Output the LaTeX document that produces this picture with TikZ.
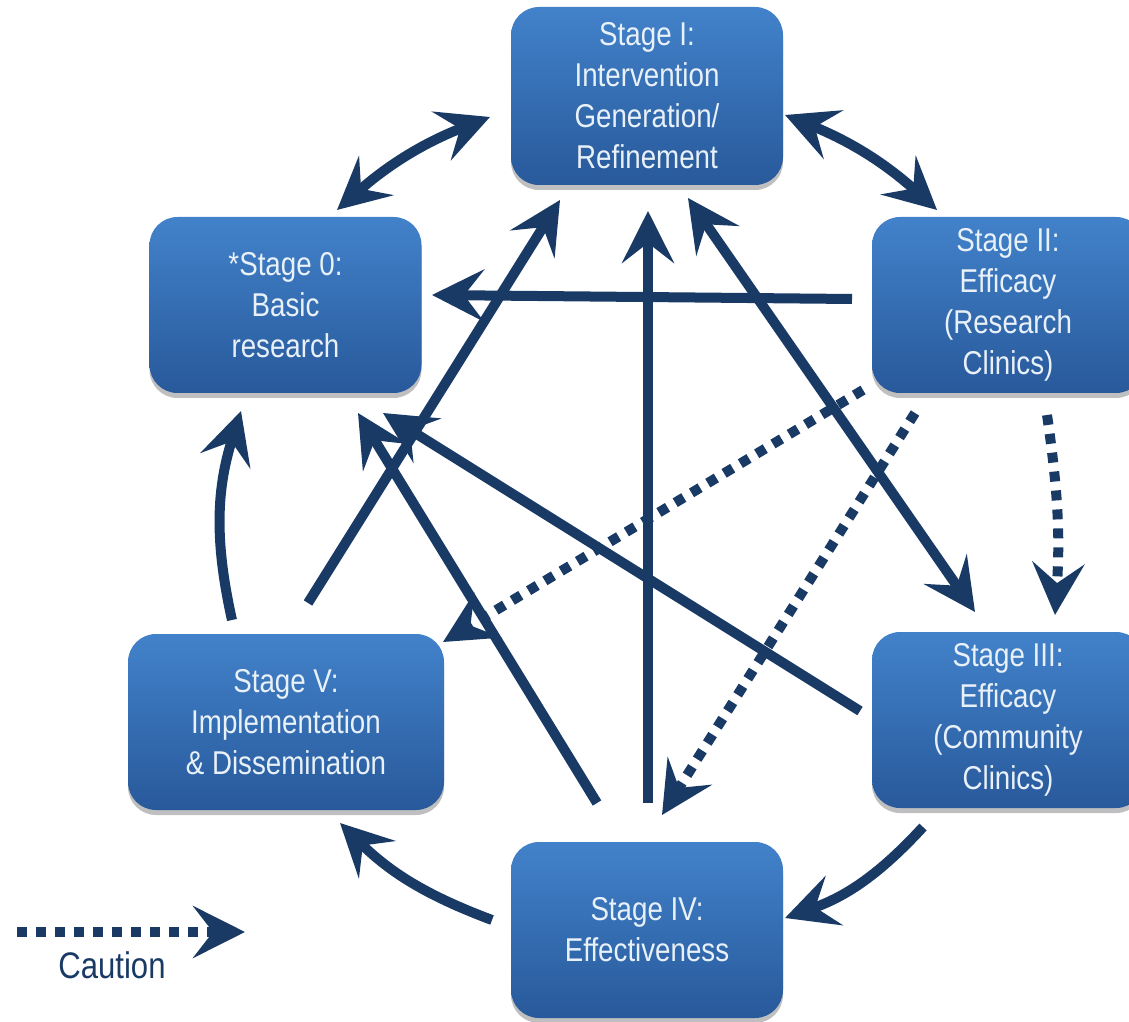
\documentclass[tikz,border=0pt]{standalone}
\usepackage{fontspec}
\newfontfamily\cond{Liberation Sans}[FakeStretch=0.84]
\usetikzlibrary{arrows.meta,shadows}
\definecolor{navy}{RGB}{26,58,102}
\definecolor{boxtop}{RGB}{66,130,202}
\definecolor{boxbot}{RGB}{40,89,155}
\definecolor{boxtext}{RGB}{232,240,248}
\begin{document}
\begin{tikzpicture}[x=1pt,y=1pt,
  stagebox/.style={rounded corners=28pt, top color=boxtop, bottom color=boxbot,
    draw=none, text=boxtext, align=center,
    font=\cond\fontsize{33}{41}\selectfont,
    minimum width=272pt, minimum height=176pt, inner sep=0pt,
    drop shadow={shadow xshift=0pt, shadow yshift=-5pt, opacity=0.25, fill=black}},
  tipA/.tip={Stealth[length=52pt,width=52pt,inset=20pt]},
  conn/.style={draw=navy, line width=10pt, -tipA},
  both/.style={draw=navy, line width=10pt, tipA-tipA},
  caution/.style={draw=navy, line width=10pt, dash pattern=on 10pt off 9pt, -tipA},
]
\useasboundingbox (0,0) rectangle (1129,1021);
\clip (0,0) rectangle (1129,1021);

% stages
\node[stagebox, minimum height=178pt] (s1) at (647,925) {Stage I:\\Intervention\\Generation/\\Refinement};
\node[stagebox] (s0) at (285.5,716) {*Stage 0:\\Basic\\research};
\node[stagebox] (s2) at (1008,716) {Stage II:\\Efficacy\\(Research\\Clinics)};
\node[stagebox] (s3) at (1008,301) {Stage III:\\Efficacy\\(Community\\Clinics)};
\node[stagebox, minimum width=316pt] (s5) at (286,299) {Stage V:\\Implementation\\\& Dissemination};
\node[stagebox] (s4) at (647,91) {Stage IV:\\Effectiveness};

% outer cycle
\draw[both] ([shift={(51.5,95)}]s0.center) to[bend left=10] ([shift={(-157,-21)}]s1.center);
\draw[both] ([shift={(138,-19)}]s1.center) to[bend left=10] ([shift={(-71,95)}]s2.center);
\draw[conn] ([shift={(-85,-107)}]s3.center) to[bend left=14] ([shift={(138,12)}]s4.center);
\draw[conn] ([shift={(-155,10)}]s4.center) to[bend left=12] ([shift={(54,-101)}]s5.center);
\draw[conn] ([shift={(-54,102)}]s5.center) to[bend left=15] ([shift={(-44.5,-106)}]s0.center);

% inner straight arrows
\draw[conn] ([shift={(-156,6)}]s2.center) -- ([shift={(146.5,10)}]s0.center);
\draw[conn] ([shift={(22,119)}]s5.center) -- ([shift={(-87,-104)}]s1.center);
\draw[conn] ([shift={(1,127)}]s4.center) -- ([shift={(1,-115)}]s1.center);
\draw[conn] ([shift={(-148,9)}]s3.center) -- ([shift={(97.5,-108)}]s0.center);
\draw[conn] ([shift={(-50,127)}]s4.center) -- ([shift={(72.5,-108)}]s0.center);
\draw[both] ([shift={(41,-102)}]s1.center) -- ([shift={(-33,108)}]s3.center);

% caution arrows
\draw[caution] ([shift={(39,-110)}]s2.center) to[bend left=6] ([shift={(47,105)}]s3.center);
\draw[caution] ([shift={(-145,-85)}]s2.center) -- ([shift={(157,80)}]s5.center);
\draw[caution] ([shift={(-93,-108)}]s2.center) -- ([shift={(15,115)}]s4.center);

% legend
\coordinate (lgA) at (17,89);
\coordinate (lgB) at (245,89);
\draw[caution] (lgA) -- (lgB);
\node[text=navy, font=\cond\fontsize{37}{44}\selectfont] (cap) at (112,56) {Caution};
\end{tikzpicture}
\end{document}
